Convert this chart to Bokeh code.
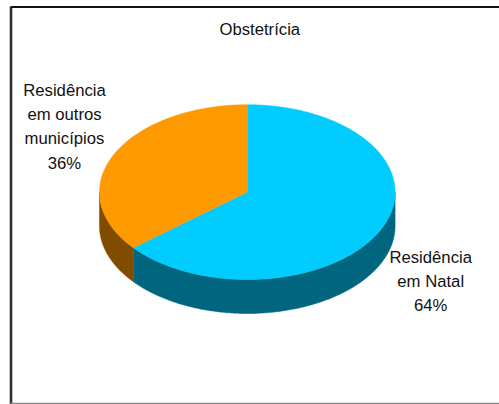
import numpy as np
from bokeh.core.properties import value
from bokeh.embed import file_html
from bokeh.models import Range1d
from bokeh.plotting import figure
from bokeh.resources import INLINE

W, H = 499, 404

# Chart content
chart_title = "Obstetrícia"
categories = ["Residência em Natal", "Residência em outros municípios"]
shares = [64, 36]
top_colors = ["#00CCFF", "#FF9900"]
side_colors = ["#006680", "#804D00"]
label_lines = [["Residência", "em Natal", "64%"],
               ["Residência", "em outros", "municípios", "36%"]]

# Pie geometry on the page, in pixels with y pointing down
CX, CY, RX, RY, DEPTH = 246.8, 191.6, 147.8, 87.4, 34.0

p = figure(width=W, height=H, output_backend="svg", toolbar_location=None,
           x_range=Range1d(0, W), y_range=Range1d(H, 0),
           min_border=0, outline_line_color=None,
           x_axis_location=None, y_axis_location=None)
p.grid.visible = False
p.background_fill_color = "white"
p.border_fill_color = "white"

# Frame around the chart: dark on top and left, grey along the bottom
p.line([10.5, 10.5], [6, H], line_color="#7f7f7f", line_width=3)
p.line([10.5, W], [6.5, 6.5], line_color="#111111", line_width=2)
p.line([10.5, 10.5], [6, H], line_color="#111111", line_width=1.4)
p.line([10, W], [403, 403], line_color="#888888", line_width=1.5)


def rim(start, stop):
    """Points of the pie's rim between two clockwise angles, measured from 12 o'clock."""
    t = np.linspace(start, stop, 240)
    return CX + RX * np.sin(t), CY - RY * np.cos(t)


# Slices run clockwise from the top, the blue one first
edges = 2 * np.pi * np.cumsum([0] + shares) / sum(shares)

# Outer wall: only the front half of the rim is visible
for start, stop, color in zip(edges[:-1], edges[1:], side_colors):
    a, b = max(start, np.pi / 2), min(stop, 3 * np.pi / 2)
    if a < b:
        x, y = rim(a, b)
        p.patch(np.r_[x, x[::-1]], np.r_[y, y[::-1] + DEPTH],
                fill_color=color, line_color=color, line_width=0.5)

# Top face
for start, stop, color in zip(edges[:-1], edges[1:], top_colors):
    x, y = rim(start, stop)
    p.patch(np.r_[CX, x], np.r_[CY, y], fill_color=color, line_color=color, line_width=0.5)

font = value("Liberation Sans")
p.text([259.3], [29.2], text=[chart_title], text_font=font, text_font_size="16.7px",
       text_align="center", text_baseline="middle", text_color="#111111")

# Data labels, one text per line
label_anchor = [(430.2, 256.6), (64.0, 90.0)]
LINE_STEP = 24.2
for lines, (lx, ly) in zip(label_lines, label_anchor):
    p.text([lx] * len(lines), [ly + i * LINE_STEP for i in range(len(lines))], text=lines,
           text_font=font, text_font_size="16.7px",
           text_align="center", text_baseline="middle", text_color="#111111")

open("out.html", "w").write(file_html(p, INLINE))
